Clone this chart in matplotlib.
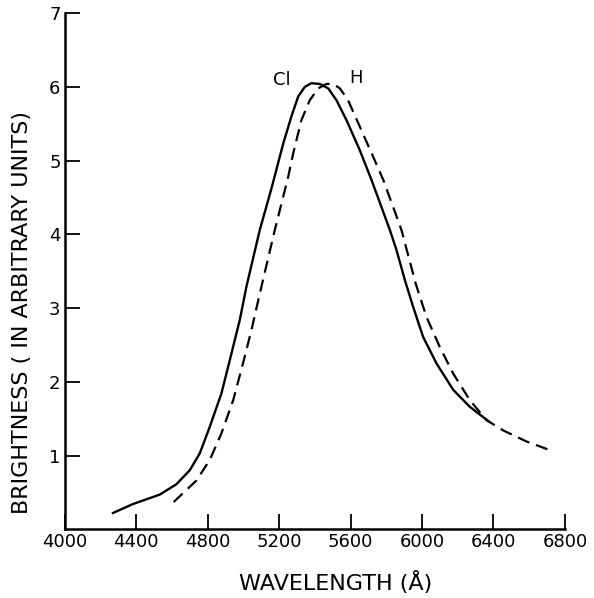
import numpy as np
import matplotlib.pyplot as plt

# Cl (solid) curve
cl_wave = [4270, 4380, 4532, 4625, 4700, 4756, 4812, 4877, 4933, 4980, 5017,
           5092, 5157, 5223, 5269, 5307, 5344, 5381, 5428, 5475, 5521, 5577,
           5652, 5717, 5820, 5857, 5904, 5950, 6006, 6081, 6175, 6268, 6375]
cl_bright = [0.22, 0.34, 0.47, 0.61, 0.80, 1.03, 1.39, 1.84, 2.38, 2.84, 3.29,
             4.06, 4.62, 5.23, 5.60, 5.87, 6.00, 6.05, 6.04, 5.98, 5.82, 5.55,
             5.14, 4.74, 4.06, 3.79, 3.38, 3.02, 2.61, 2.25, 1.89, 1.66, 1.46]

# H (dashed) curve
h_wave = [4610, 4737, 4812, 4877, 4943, 4998, 5045, 5101, 5176, 5251, 5279,
          5325, 5372, 5419, 5465, 5503, 5540, 5586, 5652, 5727, 5783, 5885,
          5965, 6025, 6100, 6175, 6268, 6361, 6455, 6585, 6730]
h_bright = [0.37, 0.66, 0.94, 1.30, 1.75, 2.25, 2.70, 3.29, 4.06, 4.78, 5.10,
            5.55, 5.82, 5.98, 6.04, 6.04, 5.98, 5.82, 5.46, 5.05, 4.74, 4.06,
            3.33, 2.88, 2.47, 2.11, 1.75, 1.48, 1.34, 1.19, 1.06]

x_ticks = [4000, 4400, 4800, 5200, 5600, 6000, 6400, 6800]
y_ticks = [1, 2, 3, 4, 5, 6, 7]

fig = plt.figure(figsize=(5.94, 5.98), dpi=100)
ax = fig.add_axes([0.109, 0.115, 0.842, 0.863])

ax.plot(cl_wave, cl_bright, color="black", lw=1.7, solid_joinstyle="round")
ax.plot(h_wave, h_bright, color="black", lw=1.6, dashes=(5.5, 3.2))

ax.text(5215, 6.09, "Cl", fontsize=13, ha="center", va="center")
ax.text(5630, 6.12, "H", fontsize=13, ha="center", va="center")

ax.set_xlim(4000, 6800)
ax.set_ylim(0, 7)
ax.set_xticks(x_ticks)
ax.set_yticks(y_ticks)
ax.tick_params(direction="in", length=11, width=1.3, labelsize=13)
ax.tick_params(axis="y", pad=3)
ax.tick_params(axis="x", pad=3)
for s in ["top", "right"]:
    ax.spines[s].set_visible(False)
for s in ["left", "bottom"]:
    ax.spines[s].set_linewidth(1.8)

ax.set_xlabel("WAVELENGTH (Å)", fontsize=16)
ax.set_ylabel("BRIGHTNESS ( IN ARBITRARY UNITS)", fontsize=16)
ax.xaxis.set_label_coords(0.541, -0.08)
ax.yaxis.set_label_coords(-0.066, 0.42)

fig.savefig("out.png", dpi=100)
